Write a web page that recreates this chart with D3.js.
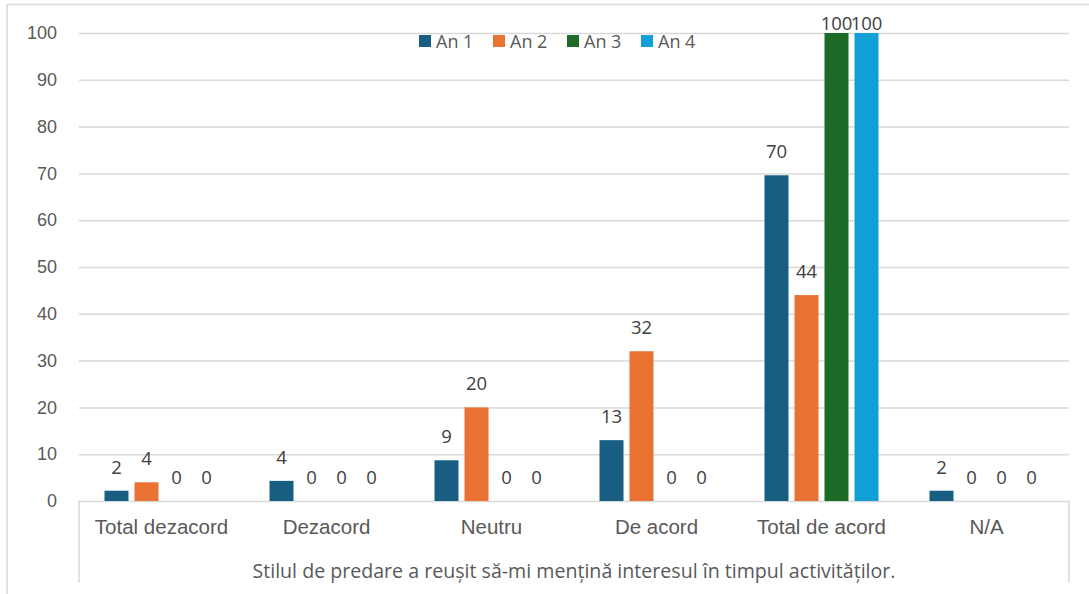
<!DOCTYPE html>
<html>
<head>
<meta charset="utf-8">
<script src="https://cdn.jsdelivr.net/npm/d3@7"></script>
<style>
  body { margin: 0; background: #fff; }
  svg { font-family: "Open Sans", Roboto, sans-serif; }
  .tick-label, .cat-label, .group-label, .legend-label { fill: #595959; }
  .bar-label { fill: #404040; }
</style>
</head>
<body>
<svg id="chart"></svg>
<script>
const categories = ['Total dezacord', 'Dezacord', 'Neutru', 'De acord', 'Total de acord', 'N/A'];
const seriesNames = ['An 1', 'An 2', 'An 3', 'An 4'];
const an1 = [2.2, 4.3, 8.7, 13.0, 69.6, 2.2];
const an2 = [4, 0, 20, 32, 44, 0];
const an3 = [0, 0, 0, 0, 100, 0];
const an4 = [0, 0, 0, 0, 100, 0];
const yTicks = [0, 10, 20, 30, 40, 50, 60, 70, 80, 90, 100];
const groupTitle = 'Stilul de predare a reușit să-mi mențină interesul în timpul activităților.';
const colors = ['#175e82', '#ea7233', '#1b6b26', '#109fd7'];

class GroupedBarChart {
    constructor(_config) {
        this.config = {
            parentElement: _config.parentElement,
            containerWidth: _config.containerWidth || 1089,
            containerHeight: _config.containerHeight || 594,
            margin: {top: 33, right: 20, bottom: 93, left: 79}
        };
        this.initVis();
    }

    initVis() {
        let vis = this;

        vis.width = 1069 - vis.config.margin.left;
        vis.height = 501 - vis.config.margin.top;

        vis.svg = d3.select(vis.config.parentElement)
            .attr('width', vis.config.containerWidth)
            .attr('height', vis.config.containerHeight);

        // outer chart frame (top + left edges visible)
        vis.svg.append('line')
            .attr('x1', 7).attr('x2', 1089).attr('y1', 4.5).attr('y2', 4.5)
            .attr('stroke', '#d9d9d9').attr('stroke-width', 1.5);
        vis.svg.append('line')
            .attr('x1', 7).attr('x2', 7).attr('y1', 4).attr('y2', 594)
            .attr('stroke', '#d9d9d9').attr('stroke-width', 1.5);

        vis.chart = vis.svg.append('g')
            .attr('transform', `translate(${vis.config.margin.left}, ${vis.config.margin.top})`);

        vis.yScale = d3.scaleLinear()
            .domain([0, 100])
            .range([vis.height, 0]);

        vis.x0 = d3.scaleBand()
            .domain(categories)
            .range([0, vis.width])
            .padding(0);

        vis.x1 = d3.scaleBand()
            .domain(seriesNames)
            .range([0, 114])
            .paddingInner(0.2)
            .paddingOuter(0);

        vis.colorScale = d3.scaleOrdinal()
            .domain(seriesNames)
            .range(colors);

        vis.data = categories.map((c, i) => ({
            category: c,
            values: [an1[i], an2[i], an3[i], an4[i]].map((v, j) => ({series: seriesNames[j], value: v}))
        }));

        vis.updateVis();
    }

    updateVis() {
        let vis = this;
        vis.renderVis();
    }

    renderVis() {
        let vis = this;

        // gridlines
        vis.chart.selectAll('.grid')
            .data(yTicks.filter(d => d > 0))
            .join('line')
            .attr('class', 'grid')
            .attr('x1', 0).attr('x2', vis.width)
            .attr('y1', d => vis.yScale(d) + 0.5).attr('y2', d => vis.yScale(d) + 0.5)
            .attr('stroke', '#d9d9d9').attr('stroke-width', 1.5);

        // y axis labels
        const yAxis = d3.axisLeft(vis.yScale).tickValues(yTicks).tickSize(0).tickPadding(22);
        const yAxisG = vis.chart.append('g').call(yAxis);
        yAxisG.select('.domain').remove();
        yAxisG.selectAll('text')
            .attr('class', 'tick-label')
            .attr('fill', null)
            .style('font-size', '18px')
            .style('font-family', null);

        // x axis: baseline, outer frame lines and category labels
        const xAxis = d3.axisBottom(vis.x0).tickSize(0).tickPadding(18);
        const xAxisG = vis.chart.append('g')
            .attr('transform', `translate(0,${vis.height})`)
            .call(xAxis);
        xAxisG.select('.domain').remove();
        xAxisG.selectAll('text')
            .attr('class', 'cat-label')
            .attr('fill', null)
            .style('font-size', '20.5px')
            .style('font-family', null);

        const axisColor = '#d9d9d9';
        vis.chart.append('line')
            .attr('x1', -1).attr('x2', vis.width + 1)
            .attr('y1', vis.height + 0.5).attr('y2', vis.height + 0.5)
            .attr('stroke', axisColor).attr('stroke-width', 1.5);
        [0, vis.width].forEach(x => {
            vis.chart.append('line')
                .attr('x1', x).attr('x2', x)
                .attr('y1', vis.height).attr('y2', vis.height + 82)
                .attr('stroke', axisColor).attr('stroke-width', 1.5);
        });

        vis.chart.append('text')
            .attr('class', 'group-label')
            .attr('x', vis.width / 2)
            .attr('y', vis.height + 77)
            .attr('text-anchor', 'middle')
            .style('font-size', '19.6px')
            .text(groupTitle);

        // bars
        const groups = vis.chart.selectAll('.cat-group')
            .data(vis.data)
            .join('g')
            .attr('class', 'cat-group')
            .attr('transform', d => `translate(${vis.x0(d.category) + vis.x0.bandwidth() / 2 - 57},0)`);

        groups.selectAll('.bar')
            .data(d => d.values)
            .join('rect')
            .attr('class', 'bar')
            .attr('x', d => vis.x1(d.series))
            .attr('width', vis.x1.bandwidth())
            .attr('y', d => vis.yScale(d.value))
            .attr('height', d => vis.height - vis.yScale(d.value))
            .attr('fill', d => vis.colorScale(d.series));

        // labels sit above the bar, but are kept inside the chart frame
        groups.selectAll('.bar-label')
            .data(d => d.values)
            .join('text')
            .attr('class', 'bar-label')
            .attr('x', d => vis.x1(d.series) + vis.x1.bandwidth() / 2)
            .attr('y', d => Math.max(vis.yScale(d.value) - 17, -3))
            .attr('text-anchor', 'middle')
            .style('font-size', '18.5px')
            .text(d => Math.round(d.value));

        // legend
        const legend = vis.svg.append('g')
            .attr('transform', 'translate(419, 35)');
        const items = legend.selectAll('.legend-item')
            .data(seriesNames)
            .join('g')
            .attr('class', 'legend-item')
            .attr('transform', (d, i) => `translate(${i * 74}, 0)`);
        items.append('rect')
            .attr('width', 12).attr('height', 12)
            .attr('fill', d => vis.colorScale(d));
        items.append('text')
            .attr('class', 'legend-label')
            .attr('x', 17).attr('y', 12.5)
            .style('font-size', '18px')
            .text(d => d);
    }
}

new GroupedBarChart({parentElement: '#chart'});
</script>
</body>
</html>
